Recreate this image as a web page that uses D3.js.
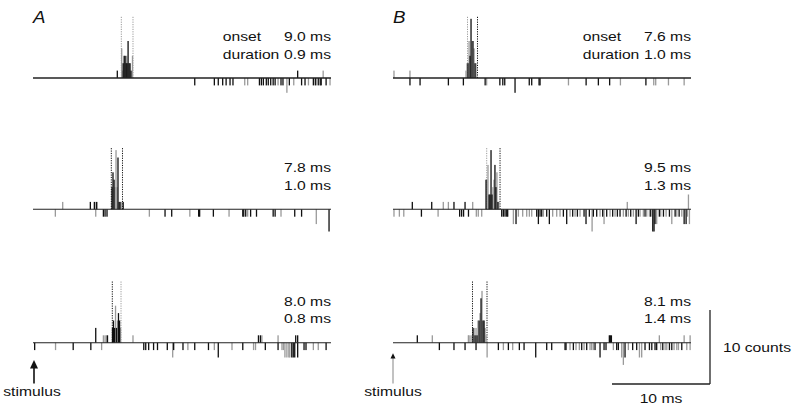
<!DOCTYPE html>
<html>
<head>
<meta charset="utf-8">
<script src="https://cdn.jsdelivr.net/npm/d3@7"></script>
<style>
  body { margin: 0; background: #fff; }
  text { font-family: "Liberation Sans", Arial, sans-serif; fill: #111; }
</style>
</head>
<body>
<div id="chart"></div>
<script>
// time (ms after stimulus), signed count (up = positive, down = negative)
const a1Dark = [[8.6,1],[9.2,2],[9.3,3],[9.4,3],[9.5,2],[9.6,2],[9.7,5],[9.8,2],[9.9,2],[10.0,1],
  [16.5,-1],[18.5,-1],[18.9,-1],[19.35,-1],[19.7,-1],[20.1,-1],[20.4,-1],[23.1,-1],[23.3,-1],[23.5,-1],
  [23.8,-1],[24.0,-1],[24.25,-1],[24.5,-1],[24.7,-1],[25.3,-1],[25.5,-1],[26.15,-1],[27.0,1],[27.4,-1],
  [27.75,-1],[28.6,-1],[28.8,-1],[29.1,-1],[29.3,-1],[29.4,-1],[29.9,-1]];
const a1Light = [[9.05,4],[9.1,1],[9.55,3],[10.15,3],
  [21.6,-1],[21.9,-1],[25.0,-1],[25.9,-2],[26.6,-1],[28.1,-1],[28.9,-1],[29.6,1],[30.3,-1]];

const a2Dark = [[5.85,1],[6.26,1],[6.46,1],[8.06,3],[8.16,5],[8.27,4],[8.67,7],[8.78,1],[8.88,1],[9.2,1],
  [7.18,-1],[7.35,-1],[7.55,-1],[13.47,-1],[14.15,-1],[16.9,-1],[17.0,-1],[18.4,-1],[21.4,-1],[21.5,-1],
  [21.7,-1],[22.2,-1],[22.8,-1],[24.5,-1],[24.7,-1],[26.7,-1],[27.4,-1],[30.2,-3]];
const a2Light = [[3.03,1],[6.56,1],[8.37,3],[8.47,8],[8.57,3],[9.0,1],
  [2.28,-1],[6.4,-1],[11.87,-1],[16.0,-1],[20.0,-1],[21.9,-1],[25.3,-1],[28.9,-2]];

const a3Dark = [[6.4,2],[7.6,1],[8.11,2],[8.21,3],[8.32,2],[8.52,2],[8.72,4],[8.83,3],[23.0,1],[23.2,1],[26.8,1],[27.0,1],
  [0.17,-1],[4.1,-1],[5.9,-1],[11.3,-1],[11.5,-1],[11.8,-1],[12.3,-1],[12.7,-1],[13.7,-1],[14.35,-1],[15.3,-1],
  [16.5,-1],[17.9,-1],[18.9,-2],[21.4,-1],[23.7,-1],[25.0,-1],[26.4,-2],[26.55,-2],[26.7,-2],[27.0,-2],
  [27.65,-1],[27.85,-1],[29.9,-1]];
const a3Light = [[7.18,1],[7.35,1],[7.5,1],[8.42,5],[8.62,3],[8.93,2],[10.2,1],[23.35,1],[25.0,1],
  [2.3,-1],[7.0,-1],[14.25,-2],[15.8,-1],[18.5,-1],[20.3,-1],[22.5,-1],[22.7,-1],[25.4,-1],[25.55,-1],
  [25.7,-2],[25.9,-2],[26.1,-2],[26.2,-2],[28.6,-1],[29.1,-1]];

const b1Dark = [[7.65,2],[7.86,3],[7.96,8],[8.16,5],[8.37,2],
  [1.73,-1],[2.76,-1],[5.65,-1],[7.18,-1],[9.4,-1],[10.9,-1],[11.2,-1],[11.4,-1],[12.45,-2],[13.9,-1],
  [14.15,-1],[14.9,-1],[15.0,-1],[19.7,-1],[20.95,-1],[22.1,-1],[25.8,-1]];
const b1Light = [[0.1,1],[1.73,1],[7.45,1],[7.55,2],[7.76,5],[8.06,5],[8.27,4],[8.47,2],
  [9.55,-1],[17.9,-1],[23.2,-1],[26.6,-1],[26.8,-1],[28.1,-1],[29.7,-1]];

const b2Dark = [[1.97,1],[3.95,1],[6.22,1],[7.35,1],[9.49,4],[9.8,2],[9.9,2],[10.0,8],[10.1,2],[10.4,6],[10.5,3],[10.7,1],
  [2.9,-1],[6.8,-1],[7.0,-1],[7.2,-1],[7.7,-1],[11.09,-1],[11.26,-1],[11.43,-1],[11.6,-1],[11.7,-1],[12.55,-2],
  [14.66,-1],[14.83,-2],[15.0,-1],[15.17,-1],[15.68,-1],[15.95,-2],[17.38,-1],[17.72,-2],[18.33,-1],[18.81,-1],
  [19.49,-1],[19.69,-2],[20.03,-1],[20.44,-1],[20.78,-1],[21.39,-1],[21.8,-1],[22.41,-1],[22.89,-1],[23.16,-1],
  [23.78,-1],[24.25,-1],[24.8,-2],[25.03,-1],[25.71,-1],[26.29,-1],[26.5,-3],[26.63,-3],[26.73,-2],[27.17,-1],
  [27.59,-1],[28.2,-1],[28.78,-1],[29.19,-1],[29.7,-2],[29.9,-2]];
const b2Light = [[5.13,1],[5.65,1],[8.13,1],[9.59,4],[9.69,6],[10.2,3],[10.3,4],[10.6,5],[10.8,1],[23.9,1],[30.14,2],
  [0.1,-1],[0.65,-1],[1.1,-1],[4.6,-1],[8.5,-1],[8.7,-1],[9.05,-1],[12.28,-2],[12.79,-1],[13.23,-1],[13.64,-1],
  [13.91,-1],[14.15,-1],[15.34,-1],[16.29,-1],[16.7,-1],[17.04,-1],[18.06,-1],[18.57,-1],[19.08,-1],[20.31,-3],
  [21.12,-1],[21.53,-2],[22.14,-1],[22.65,-1],[23.5,-1],[24.01,-1],[24.52,-1],[25.2,-1],[25.54,-1],[25.88,-1],
  [26.16,-1],[26.9,-2],[27.31,-1],[27.86,-1],[28.44,-2],[28.95,-1],[29.46,-1],[30.04,-1],[30.24,-2]];

const b3Dark = [[2.48,1],[8.16,2],[8.37,1],[8.57,1],[8.78,3],[8.98,6],[9.18,3],[9.29,3],[22.07,1],[22.17,1],[22.28,1],
  [4.73,-1],[6.22,-1],[7.35,-1],[8.47,-1],[10.75,-1],[11.77,-1],[12.89,-1],[13.37,-1],[14.56,-2],[15.68,-1],
  [16.19,-1],[17.55,-1],[17.65,-1],[18.4,-1],[19.25,-1],[19.76,-1],[20.61,-1],[21.12,-2],[21.53,-1],[21.73,-1],
  [22.82,-1],[22.99,-1],[23.67,-2],[24.45,-1],[24.86,-1],[25.71,-1],[26.16,-1],[26.4,-1],[26.73,-1],[26.9,-1],
  [27.52,-1],[28.2,-1],[28.44,-1],[29.46,-1]];
const b3Light = [[4.01,1],[7.69,1],[7.76,1],[7.96,1],[8.27,2],[8.47,2],[8.67,3],[8.88,4],[9.08,7],[9.39,2],[9.49,1],
  [27.17,1],[29.7,1],[30.31,1],
  [9.6,-2],[11.26,-1],[12.21,-1],[18.06,-1],[18.67,-1],[19.01,-1],[19.49,-1],[20.1,-1],[20.27,-1],[20.44,-1],
  [22.48,-1],[23.33,-2],[23.5,-3],[24.01,-1],[25.14,-2],[25.37,-2],[27.31,-1],[27.76,-1],[27.93,-1],[28.67,-1],
  [28.95,-1],[29.12,-1],[29.97,-1],[30.31,-1]];

// window edges drawn as dotted lines (ms)
const dashTimes = [[9.01,10.2],[7.99,9.13],[8.09,8.98],[7.6,8.62],[9.56,10.92],[8.11,9.59]];
const onsetLabels = ["9.0 ms","7.8 ms","8.0 ms","7.6 ms","9.5 ms","8.1 ms"];
const durationLabels = ["0.9 ms","1.0 ms","0.8 ms","1.0 ms","1.3 ms","1.4 ms"];
const panelLetters = ["A","B"];
const timeDomain = [0, 30.4];
const scaleBarMs = 10, scaleBarCounts = 10;

const W = 793, H = 409;
const colX = [33, 393];
const rowY = [78, 209.3, 342.7];
const DARK = "#101010", LIGHT = "#9a9a9a";
const STRETCH = 1.17;

const svg = d3.select("#chart").append("svg").attr("width", W).attr("height", H);

const x = d3.scaleLinear().domain(timeDomain).range([0, 298]);
const y = d3.scaleLinear().domain([0, 10]).range([0, -74]);

function label(g, px, py, str, anchor, size = 13.4, italic = false) {
  g.append("text")
    .attr("transform", `translate(${px},${py}) scale(${STRETCH},1)`)
    .attr("text-anchor", anchor)
    .style("font-size", size + "px")
    .style("font-style", italic ? "italic" : "normal")
    .text(str);
}

const panels = [
  { col: 0, row: 0, dark: a1Dark, light: a1Light, tones: [LIGHT, LIGHT] },
  { col: 0, row: 1, dark: a2Dark, light: a2Light, tones: [DARK, DARK] },
  { col: 0, row: 2, dark: a3Dark, light: a3Light, tones: [DARK, LIGHT] },
  { col: 1, row: 0, dark: b1Dark, light: b1Light, tones: [LIGHT, DARK] },
  { col: 1, row: 1, dark: b2Dark, light: b2Light, tones: [LIGHT, DARK] },
  { col: 1, row: 2, dark: b3Dark, light: b3Light, tones: [DARK, DARK] }
];

panels.forEach((p, i) => {
  const g = svg.append("g").attr("transform", `translate(${colX[p.col]},${rowY[p.row]})`);

  // dotted window lines
  g.selectAll(".win")
    .data(dashTimes[i])
    .enter()
    .append("line")
    .attr("x1", d => x(d)).attr("x2", d => x(d))
    .attr("y1", 0).attr("y2", y(8.3))
    .attr("stroke", (d, j) => p.tones[j])
    .attr("stroke-width", 1)
    .attr("stroke-dasharray", "1.2,1.2");

  [[p.light, LIGHT], [p.dark, DARK]].forEach(([data, col]) => {
    g.selectAll(null)
      .data(data)
      .enter()
      .append("rect")
      .attr("x", d => x(d[0]) - 0.65)
      .attr("width", 1.3)
      .attr("y", d => Math.min(y(d[1]), 0))
      .attr("height", d => Math.abs(y(d[1])))
      .attr("fill", col);
  });

  g.append("line")
    .attr("x1", x(timeDomain[0])).attr("x2", x(timeDomain[1]))
    .attr("y1", 0).attr("y2", 0)
    .attr("stroke", "#222")
    .attr("stroke-width", p.row === 0 ? 1.6 : 1.1);

  const right = x(timeDomain[1]);
  label(g, right, -37, onsetLabels[i], "end");
  label(g, right, -19.5, durationLabels[i], "end");
  if (p.row === 0) {
    label(g, 189.7, -37, "onset", "start");
    label(g, 189.7, -19.5, "duration", "start");
    label(g, 0, -55.3, panelLetters[p.col], "start", 16, true);
  }
});

// stimulus arrows
const arrowA = svg.append("g");
arrowA.append("line").attr("x1", 34).attr("x2", 34).attr("y1", 366).attr("y2", 383.5)
  .attr("stroke", "#111").attr("stroke-width", 1.6);
arrowA.append("path").attr("d", "M34,360 L30,368.5 L38,368.5 Z").attr("fill", "#111");
label(svg, 32, 396, "stimulus", "middle");

const arrowB = svg.append("g");
arrowB.append("line").attr("x1", 393).attr("x2", 393).attr("y1", 357).attr("y2", 383.5)
  .attr("stroke", "#999").attr("stroke-width", 1.2);
arrowB.append("path").attr("d", "M393,353.3 L390.5,358.5 L395.5,358.5 Z").attr("fill", "#111");
label(svg, 393, 396, "stimulus", "middle");

// scale bar
const sb = svg.append("g").attr("transform", "translate(710,384)");
sb.append("line").attr("x1", 0).attr("x2", 0).attr("y1", 0).attr("y2", y(scaleBarCounts))
  .attr("stroke", "#222").attr("stroke-width", 1.3);
sb.append("line").attr("x1", -x(scaleBarMs)).attr("x2", 0).attr("y1", 0).attr("y2", 0)
  .attr("stroke", "#222").attr("stroke-width", 1.3);
label(sb, 13, -32.3, scaleBarCounts + " counts", "start");
label(sb, -x(scaleBarMs) / 2, 18.7, scaleBarMs + " ms", "middle");
</script>
</body>
</html>
